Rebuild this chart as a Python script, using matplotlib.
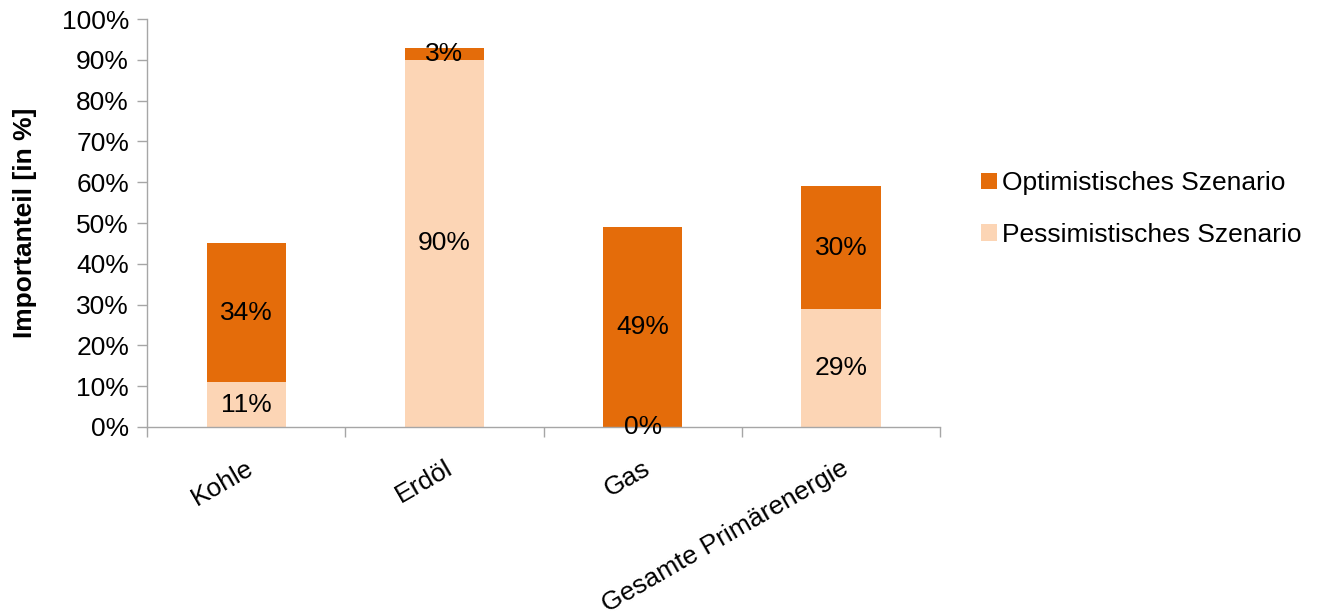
import numpy as np
import matplotlib.pyplot as plt
from matplotlib import rcParams
from matplotlib.ticker import PercentFormatter

rcParams['font.family'] = ['Liberation Sans', 'DejaVu Sans']
rcParams['font.size'] = 19

# Daten
kategorien = ["Kohle", "Erdöl", "Gas", "Gesamte Primärenergie"]
pessimistisch = [11, 90, 0, 29]
optimistisch = [34, 3, 49, 30]

farbe_opt = "#E46C0A"
farbe_pes = "#FCD5B5"
achsenfarbe = "#A6A6A6"

fig = plt.figure(figsize=(13.19, 6.15), dpi=100)
ax = fig.add_axes([0.1115, 0.3057, 0.6012, 0.6633])

x = np.arange(len(kategorien))
b_pes = ax.bar(x, pessimistisch, width=0.4, color=farbe_pes, label="Pessimistisches Szenario")
b_opt = ax.bar(x, optimistisch, width=0.4, bottom=pessimistisch, color=farbe_opt,
               label="Optimistisches Szenario")

for rect, v in zip(b_pes, pessimistisch):
    ax.text(rect.get_x() + rect.get_width() / 2, rect.get_y() + rect.get_height() / 2,
            f"{v}%", ha="center", va="center", color="black")
for rect, v in zip(b_opt, optimistisch):
    ax.text(rect.get_x() + rect.get_width() / 2, rect.get_y() + rect.get_height() / 2,
            f"{v}%", ha="center", va="center", color="black")

ax.set_xlim(-0.5, len(kategorien) - 0.5)
ax.set_ylim(0, 100)
ax.set_yticks(np.arange(0, 101, 10))
ax.yaxis.set_major_formatter(PercentFormatter(decimals=0))

# Kategorien als Minor-Ticks beschriften, Striche zwischen den Balken
ax.set_xticks(np.arange(-0.5, len(kategorien), 1.0))
ax.set_xticklabels([])
ax.set_xticks(x, minor=True)
ax.set_xticklabels(kategorien, minor=True, rotation=30, ha="right", rotation_mode="anchor")
ax.tick_params(axis="x", which="minor", length=0, pad=21)
ax.tick_params(axis="x", which="major", length=7, color=achsenfarbe, width=1)
ax.tick_params(axis="y", length=7, color=achsenfarbe, width=1, pad=6)

for s in ["top", "right"]:
    ax.spines[s].set_visible(False)
for s in ["left", "bottom"]:
    ax.spines[s].set_color(achsenfarbe)
    ax.spines[s].set_linewidth(1)

ax.set_ylabel("Importanteil [in %]", fontweight="bold", labelpad=18)

ax.legend(handles=[b_opt, b_pes], loc="center left", bbox_to_anchor=(0.726, 0.66),
          bbox_transform=fig.transFigure, frameon=False, handlelength=0.6,
          handleheight=0.6, handletextpad=0.2, labelspacing=1.05)

plt.savefig("out.png", dpi=100)
